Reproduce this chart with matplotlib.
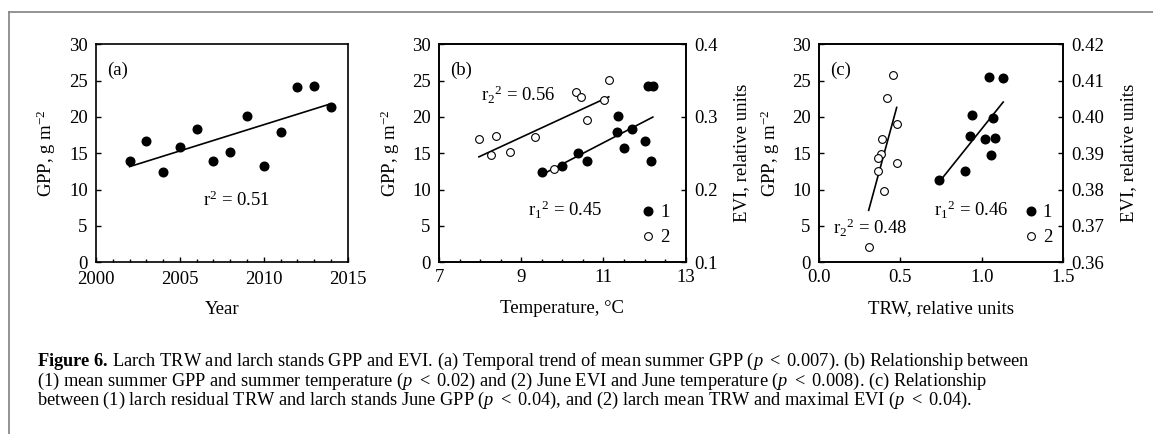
import matplotlib
matplotlib.use("Agg")
import matplotlib.pyplot as plt
import numpy as np
from matplotlib.lines import Line2D
from matplotlib.ticker import MultipleLocator, FormatStrFormatter

plt.rcParams['font.family'] = ['Liberation Serif', 'DejaVu Serif']
plt.rcParams['mathtext.fontset'] = 'custom'
plt.rcParams['mathtext.rm'] = 'Liberation Serif'
plt.rcParams['mathtext.it'] = 'Liberation Serif:italic'
plt.rcParams['mathtext.bf'] = 'Liberation Serif:bold'
plt.rcParams['font.size'] = 13.5

# --- data ---
# (a) mean summer GPP by year
years = [2002, 2003, 2004, 2005, 2006, 2007, 2008, 2009, 2010, 2011, 2012, 2013, 2014]
gpp_year = [14.0, 16.7, 12.4, 15.8, 18.3, 13.9, 15.2, 20.2, 13.3, 17.9, 24.1, 24.2, 21.4]

# (b) 1: summer GPP vs summer temperature, 2: June EVI vs June temperature
temp_gpp = [9.50, 9.98, 10.37, 10.61, 11.32, 11.36, 11.51, 11.70, 12.02, 12.09, 12.20, 12.16]
gpp_temp = [12.4, 13.3, 15.1, 13.9, 17.9, 20.2, 15.7, 18.3, 16.7, 24.2, 24.2, 13.9]
temp_evi = [7.97, 8.27, 8.39, 8.72, 9.33, 9.79, 10.34, 10.45, 10.61, 11.02, 11.13]
evi_temp = [0.269, 0.247, 0.274, 0.252, 0.272, 0.229, 0.335, 0.327, 0.296, 0.324, 0.351]

# (c) 1: residual TRW vs June GPP, 2: mean TRW vs maximal EVI
trw_gpp = [0.739, 0.898, 0.927, 0.941, 1.017, 1.044, 1.056, 1.066, 1.082, 1.131]
gpp_trw = [11.3, 12.6, 17.4, 20.3, 16.9, 25.5, 14.8, 19.9, 17.1, 25.3]
trw_evi = [0.456, 0.419, 0.477, 0.387, 0.379, 0.362, 0.364, 0.477, 0.399, 0.305]
evi_trw = [0.4116, 0.4052, 0.3982, 0.3939, 0.3898, 0.3888, 0.3851, 0.3872, 0.3797, 0.3641]

temp_ticks = [7, 9, 11, 13]

W, H = 1153, 434
fig = plt.figure(figsize=(W / 100, H / 100), dpi=100)


def px_axes(left, right, top, bottom):
    return fig.add_axes([left / W, 1 - bottom / H, (right - left) / W, (bottom - top) / H])


def style(ax):
    for s in ax.spines.values():
        s.set_linewidth(1.2)
    ax.tick_params(direction='in', which='major', length=3.5, width=1.0, pad=6.0, labelsize=13.5)
    ax.tick_params(direction='in', which='minor', length=2.5, width=1.0)


def fit_line(ax, x, y):
    x = np.asarray(x)
    k, b = np.polyfit(x, y, 1)
    xs = np.array([x.min(), x.max()])
    ax.plot(xs, k * xs + b, color='black', lw=1.2, zorder=2)


filled = dict(marker='o', ls='none', ms=6.2, mfc='black', mec='black', zorder=3)
hollow = dict(marker='o', ls='none', ms=5.6, mfc='white', mec='black', mew=0.8, zorder=3)
leg_kw = dict(loc='lower right', frameon=False, handlelength=0.6, handletextpad=0.35,
              labelspacing=0.42, borderaxespad=0.0, fontsize=13.5)
note_kw = dict(fontsize=13.5, va='center')

# ---------- (a) ----------
axa = px_axes(96, 347.7, 44.3, 262.3)
style(axa)
axa.plot(years, gpp_year, **filled)
fit_line(axa, years, gpp_year)
axa.set_xlim(2000, 2015)
axa.set_ylim(0, 30)
axa.xaxis.set_major_locator(MultipleLocator(5))
axa.xaxis.set_minor_locator(MultipleLocator(1))
axa.yaxis.set_major_locator(MultipleLocator(5))
axa.tick_params(axis='x', pad=6.5)
axa.set_xlabel('Year', labelpad=9)
axa.set_ylabel('GPP, g m$^{-2}$', labelpad=8)
axa.text(0.045, 0.882, '(a)', transform=axa.transAxes, **note_kw)
axa.text(0.425, 0.286, 'r$^2$ = 0.51', transform=axa.transAxes, **note_kw)

# ---------- (b) ----------
axb = px_axes(439, 685.7, 44.3, 262.3)
style(axb)
h1, = axb.plot(temp_gpp, gpp_temp, **filled)
fit_line(axb, temp_gpp, gpp_temp)
axb.set_xlim(7, 13)
axb.set_ylim(0, 30)
axb.set_xticks(temp_ticks)
axb.xaxis.set_minor_locator(MultipleLocator(0.5))
axb.yaxis.set_major_locator(MultipleLocator(5))
axb.tick_params(axis='x', pad=5)
axb.set_xlabel('Temperature, °C', labelpad=10)
axb.set_ylabel('GPP, g m$^{-2}$', labelpad=7)
axb2 = axb.twinx()
style(axb2)
h2, = axb2.plot(temp_evi, evi_temp, **hollow)
fit_line(axb2, temp_evi, evi_temp)
axb2.set_ylim(0.1, 0.4)
axb2.yaxis.set_major_locator(MultipleLocator(0.1))
axb2.yaxis.set_major_formatter(FormatStrFormatter('%.1f'))
axb2.set_ylabel('EVI, relative units', labelpad=11)
axb.text(0.045, 0.882, '(b)', transform=axb.transAxes, **note_kw)
axb.text(0.17, 0.767, 'r$_2{}^2$ = 0.56', transform=axb.transAxes, **note_kw)
axb.text(0.36, 0.24, 'r$_1{}^2$ = 0.45', transform=axb.transAxes, **note_kw)
axb2.legend([h1, h2], ['1', '2'], bbox_to_anchor=(0.965, 0.04), **leg_kw)

# ---------- (c) ----------
axc = px_axes(819, 1063.3, 44.3, 262.3)
style(axc)
g1, = axc.plot(trw_gpp, gpp_trw, **filled)
fit_line(axc, trw_gpp, gpp_trw)
axc.set_xlim(0, 1.5)
axc.set_ylim(0, 30)
axc.xaxis.set_major_locator(MultipleLocator(0.5))
axc.xaxis.set_major_formatter(FormatStrFormatter('%.1f'))
axc.yaxis.set_major_locator(MultipleLocator(5))
axc.tick_params(axis='x', pad=5)
axc.set_xlabel('TRW, relative units', labelpad=10)
axc.set_ylabel('GPP, g m$^{-2}$', labelpad=7)
axc2 = axc.twinx()
style(axc2)
g2, = axc2.plot(trw_evi, evi_trw, **hollow)
fit_line(axc2, trw_evi, evi_trw)
axc2.set_ylim(0.36, 0.42)
axc2.yaxis.set_major_locator(MultipleLocator(0.01))
axc2.yaxis.set_major_formatter(FormatStrFormatter('%.2f'))
axc2.set_ylabel('EVI, relative units', labelpad=11)
axc.text(0.045, 0.882, '(c)', transform=axc.transAxes, **note_kw)
axc.text(0.059, 0.156, 'r$_2{}^2$ = 0.48', transform=axc.transAxes, **note_kw)
axc.text(0.472, 0.24, 'r$_1{}^2$ = 0.46', transform=axc.transAxes, **note_kw)
axc2.legend([g1, g2], ['1', '2'], bbox_to_anchor=(0.985, 0.04), **leg_kw)

# ---------- frame and caption ----------
fig.add_artist(Line2D([9.3 / W, 9.3 / W], [0, 1 - 12.3 / H], color='#8a8a8a', lw=1.3))
fig.add_artist(Line2D([9.3 / W, 1], [1 - 12.3 / H, 1 - 12.3 / H], color='#8a8a8a', lw=1.3))

caption = [
    r"$\mathbf{Figure\ 6.}\,$Larch TRW and larch stands GPP and EVI. (a) Temporal trend of mean summer GPP ($p\ <\ 0.007$). (b) Relationship between",
    r"(1) mean summer GPP and summer temperature ($p\ <\ 0.02$) and (2) June EVI and June temperature ($p\ <\ 0.008$). (c) Relationship",
    r"between (1) larch residual TRW and larch stands June GPP ($p\ <\ 0.04$), and (2) larch mean TRW and maximal EVI ($p\ <\ 0.04$).",
]
baselines = [366, 385.5, 405]
for line, yb in zip(caption, baselines):
    fig.text(36.5 / W, 1 - yb / H, line, fontsize=13.2, va='baseline', ha='left')

fig.savefig('out.png', dpi=100)
